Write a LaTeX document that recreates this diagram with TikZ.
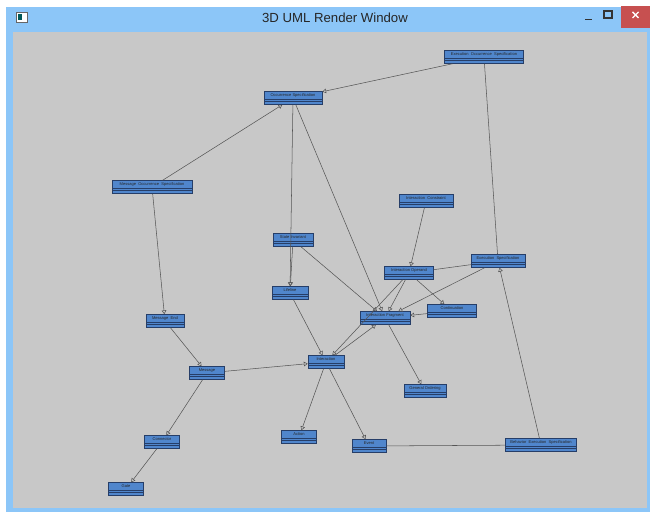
\documentclass[tikz,border=0pt]{standalone}
\usepackage{fontspec}
\setmainfont{Liberation Sans}
\usepackage{tikz}
\usetikzlibrary{arrows.meta}

\definecolor{titleblue}{RGB}{140,198,248}
\definecolor{closered}{RGB}{199,80,80}
\definecolor{clientgray}{RGB}{200,200,200}
\definecolor{boxblue}{RGB}{80,134,204}
\definecolor{boxline}{RGB}{38,62,104}
\definecolor{linkgray}{RGB}{85,85,85}

\tikzset{
  umlbox/.style={rectangle, draw=boxline, fill=boxblue, line width=0.3pt,
    minimum height=13*0.02cm, inner xsep=0.5pt, inner ysep=0.9pt,
    text height=2pt, text depth=3.6pt, font=\fontsize{2.3}{2.6}\selectfont,
    text=black!85,
    path picture={\draw[boxline, line width=0.25pt]
      ([yshift=3.1pt]path picture bounding box.south west) -- ([yshift=3.1pt]path picture bounding box.south east)
      ([yshift=1.6pt]path picture bounding box.south west) -- ([yshift=1.6pt]path picture bounding box.south east);}},
  boxw/.style={minimum width=#1*0.02cm},
  assoc/.style={draw=linkgray, line width=0.3pt},
  gen/.style={assoc, -{Triangle[open, length=2.2pt, width=2.6pt]}}
}

\begin{document}
\begin{tikzpicture}[x=0.02cm, y=-0.02cm]
  \useasboundingbox (0,0) rectangle (650,513);

  % Window frame
  \fill[white] (0,0) rectangle (650,513);
  \fill[titleblue] (6,7) rectangle (650,512);
  \fill[clientgray] (13,32) rectangle (647,508);
  \fill[closered] (621,6) rectangle (650,28);
  \node[font=\fontsize{7.5}{9}\selectfont, text=black!85] (title) at (335,18) {3D UML Render Window};
  \draw[black!60, fill=white, line width=0.4pt] (16,12) rectangle (27,22);
  \fill[teal!70!black] (18,14) rectangle (22,20);
  \draw[black!80, line width=0.6pt] (585,19.5) -- (592,19.5);
  \draw[black!80, line width=0.6pt] (604,11) rectangle (612,18);
  \draw[white, line width=0.8pt] (632.5,12) -- (638.5,18) (632.5,18) -- (638.5,12);

  % Classes
  \node[umlbox, boxw=79] (eos) at (484,57) {Execution\ \ Occurrence\ \ Specification};
  \node[umlbox, boxw=58] (os) at (293,98) {Occurrence Specification};
  \node[umlbox, boxw=80] (mos) at (152,187) {Message\ \ Occurrence\ \ Specification};
  \node[umlbox, boxw=54] (constraint) at (426,201) {Interaction\ \ Constraint};
  \node[umlbox, boxw=40] (invariant) at (293,240) {State Invariant};
  \node[umlbox, boxw=36] (lifeline) at (290,293) {Lifeline};
  \node[umlbox, boxw=49] (operand) at (409,273) {Interaction Operand};
  \node[umlbox, boxw=54] (execspec) at (498,261) {Execution\ \ Specification};
  \node[umlbox, boxw=50] (fragment) at (385,318) {Interaction Fragment};
  \node[umlbox, boxw=49] (continuation) at (452,311) {Continuation};
  \node[umlbox, boxw=38] (msgend) at (165,321) {Message\ \ End};
  \node[umlbox, boxw=35] (message) at (207,373) {Message};
  \node[umlbox, boxw=36] (interaction) at (326,362) {Interaction};
  \node[umlbox, boxw=42] (ordering) at (425,391) {General Ordering};
  \node[umlbox, boxw=35] (action) at (299,437) {Action};
  \node[umlbox, boxw=34] (event) at (369,446) {Event};
  \node[umlbox, boxw=71] (bes) at (541,445) {Behavior\ \ Execution\ \ Specification};
  \node[umlbox, boxw=35] (connector) at (162,442) {Connector};
  \node[umlbox, boxw=35] (gate) at (126,489) {Gate};

  % Links
  \draw[gen] (eos) -- (os);
  \draw[assoc] (eos) -- (execspec);
  \draw[gen] (mos) -- (os);
  \draw[gen] (mos) -- (msgend);
  \draw[gen] (os) -- (lifeline);
  \draw[gen] (os) -- (fragment);
  \draw[gen] (invariant) -- (lifeline);
  \draw[gen] (invariant) -- (fragment);
  \draw[gen] (constraint) -- (operand);
  \draw[assoc] (operand) -- (execspec);
  \draw[gen] (operand) -- (fragment);
  \draw[gen] (operand) -- (continuation);
  \draw[gen] (operand) -- (interaction);
  \draw[gen] (execspec) -- (fragment);
  \draw[gen] (bes) -- (execspec);
  \draw[gen] (continuation) -- (fragment);
  \draw[gen] (fragment) -- (ordering);
  \draw[gen] (interaction) -- (fragment);
  \draw[gen] (lifeline) -- (interaction);
  \draw[gen] (msgend) -- (message);
  \draw[gen] (message) -- (interaction);
  \draw[gen] (message) -- (connector);
  \draw[gen] (connector) -- (gate);
  \draw[gen] (interaction) -- (action);
  \draw[gen] (interaction) -- (event);
  \draw[assoc] (event) -- (bes);
\end{tikzpicture}
\end{document}
